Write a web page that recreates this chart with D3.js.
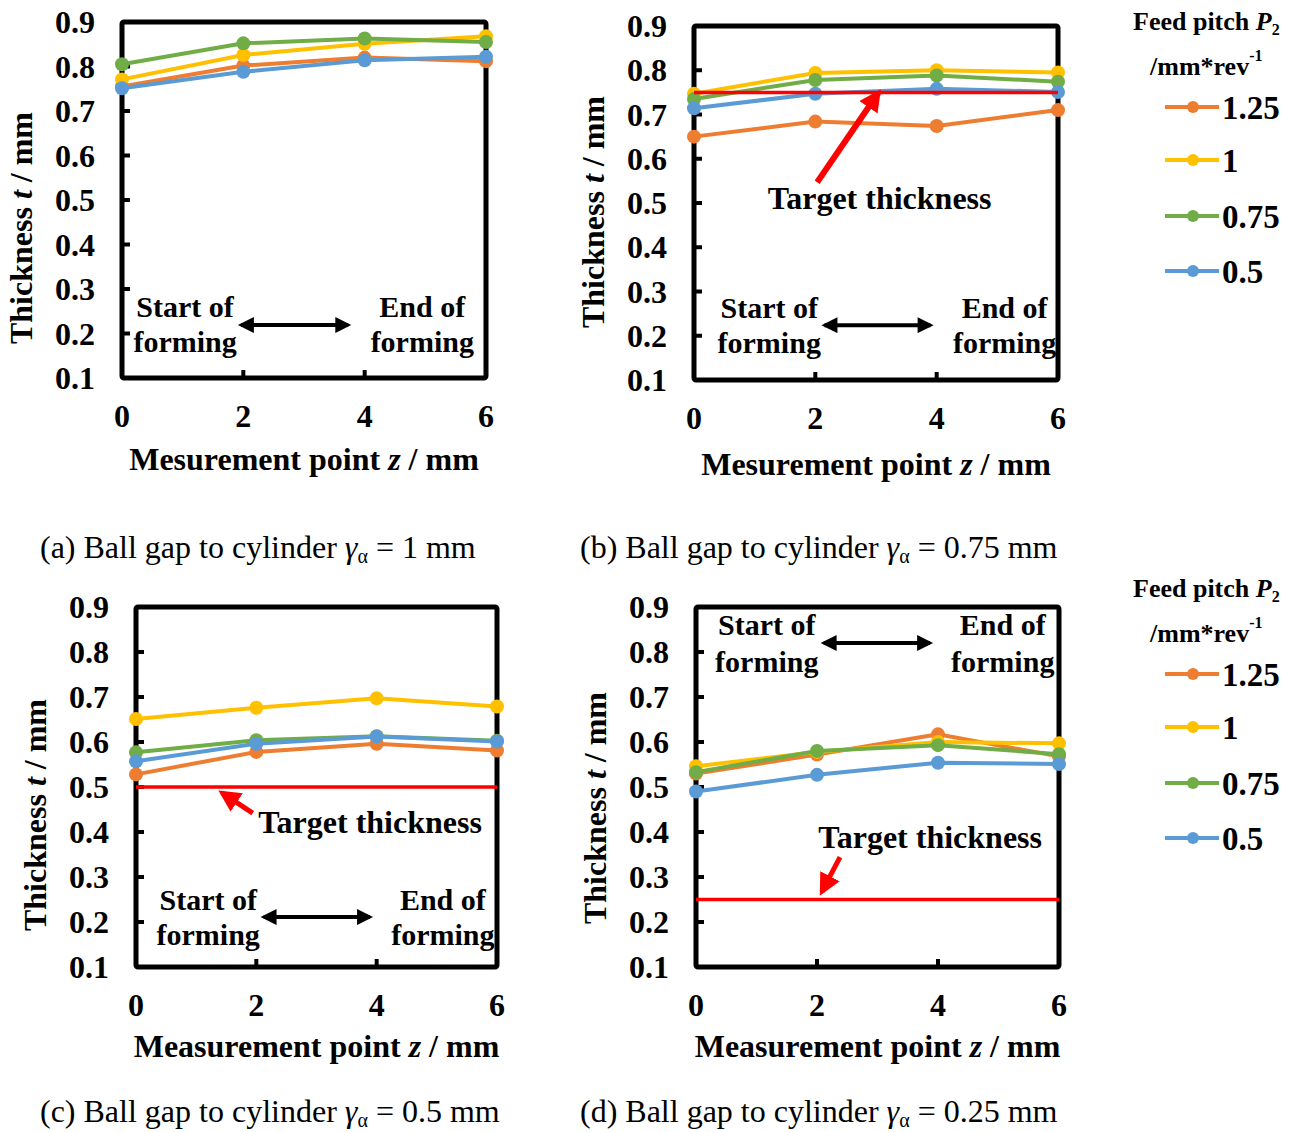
<!DOCTYPE html>
<html>
<head>
<meta charset="utf-8">
<script src="https://cdn.jsdelivr.net/npm/d3@7"></script>
<style>
  body { margin: 0; background: #fff; }
  svg { display: block; font-family: "Liberation Serif", "Times New Roman", serif; }
</style>
</head>
<body>
<div id="chart"></div>
<script>
// ---- data ----
const zPoints = [0, 2, 4, 6];
const yTicks = [0.1, 0.2, 0.3, 0.4, 0.5, 0.6, 0.7, 0.8, 0.9];
const feedPitch = ["1.25", "1", "0.75", "0.5"];
const colors = ["#ED7D31", "#FFC000", "#70AD47", "#5B9BD5"];

// thickness per feed pitch (rows follow feedPitch), per panel
const gap1 = [
  [0.755, 0.802, 0.820, 0.812],
  [0.771, 0.826, 0.851, 0.868],
  [0.805, 0.852, 0.863, 0.855],
  [0.751, 0.788, 0.814, 0.822]
];
const gap075 = [
  [0.650, 0.684, 0.674, 0.710],
  [0.747, 0.794, 0.800, 0.795],
  [0.735, 0.778, 0.788, 0.774],
  [0.714, 0.747, 0.758, 0.751]
];
const gap05 = [
  [0.528, 0.578, 0.596, 0.581],
  [0.651, 0.676, 0.697, 0.679],
  [0.577, 0.604, 0.613, 0.603],
  [0.557, 0.596, 0.612, 0.601]
];
const gap025 = [
  [0.530, 0.572, 0.617, 0.568],
  [0.546, 0.578, 0.600, 0.597],
  [0.533, 0.580, 0.593, 0.573],
  [0.490, 0.527, 0.554, 0.551]
];
const targets = [null, 0.75, 0.5, 0.25];
const gapLabels = ["1", "0.75", "0.5", "0.25"];

const W = 1298, H = 1132;
const svg = d3.select("#chart").append("svg")
  .attr("width", W).attr("height", H);

const panels = [
  { key: "a", data: gap1, target: targets[0], gap: gapLabels[0],
    box: [122, 486, 22, 378], xlab: "Mesurement", xlabY: 470, ylabY: 228,
    start: [1.04, 4.95, 0.237, 0.158], arrow: [1.93, 3.76, 0.219],
    cap: [40, 558] },
  { key: "b", data: gap075, target: targets[1], gap: gapLabels[1],
    box: [694, 1058, 26, 380], xlab: "Mesurement", xlabY: 475, ylabY: 212,
    start: [1.24, 5.12, 0.24, 0.161], arrow: [2.12, 3.93, 0.224],
    tt: [3.06, 0.486], tArrow: [2.03, 0.547, 3.04, 0.749],
    cap: [580, 558] },
  { key: "c", data: gap05, target: targets[2], gap: gapLabels[2],
    box: [136, 497, 607, 967], xlab: "Measurement", xlabY: 1057, ylabY: 815,
    start: [1.2, 5.1, 0.227, 0.149], arrow: [2.09, 3.92, 0.211],
    tt: [3.89, 0.398], tArrow: [1.94, 0.442, 1.43, 0.487],
    cap: [40, 1122] },
  { key: "d", data: gap025, target: targets[3], gap: gapLabels[3],
    box: [696, 1059, 607, 967], xlab: "Measurement", xlabY: 1057, ylabY: 808,
    start: [1.17, 5.07, 0.838, 0.756], arrow: [2.08, 3.9, 0.82],
    tt: [3.87, 0.364], tArrow: [2.38, 0.344, 2.08, 0.267],
    cap: [580, 1122] }
];

const defs = svg.append("defs");
function marker(id, color, w, h) {
  defs.append("marker")
    .attr("id", id)
    .attr("viewBox", "0 -5 10 10")
    .attr("refX", 8).attr("refY", 0)
    .attr("markerWidth", w).attr("markerHeight", h)
    .attr("markerUnits", "userSpaceOnUse")
    .attr("orient", "auto-start-reverse")
    .append("path")
    .attr("d", "M0,-5L10,0L0,5Z")
    .attr("fill", color);
}
marker("blackHead", "#000", 20, 16);
marker("redHead", "#FF0000", 22, 24);

panels.forEach(p => {
  const [x0, x1, y0, y1] = p.box;
  const x = d3.scaleLinear().domain([0, 6]).range([x0, x1]);
  const y = d3.scaleLinear().domain([0.1, 0.9]).range([y1, y0]);
  const g = svg.append("g").attr("class", "panel-" + p.key);

  // frame
  g.append("rect")
    .attr("x", x0).attr("y", y0)
    .attr("width", x1 - x0).attr("height", y1 - y0)
    .attr("fill", "none").attr("stroke", "#000")
    .attr("stroke-width", 5).attr("rx", 2);

  // inward ticks
  g.append("g").selectAll("line")
    .data(yTicks.slice(1, -1))
    .join("line")
    .attr("x1", x0).attr("x2", x0 + 8)
    .attr("y1", d => y(d)).attr("y2", d => y(d))
    .attr("stroke", "#000").attr("stroke-width", 4);
  g.append("g").selectAll("line")
    .data(zPoints.slice(1, -1))
    .join("line")
    .attr("x1", d => x(d)).attr("x2", d => x(d))
    .attr("y1", y1).attr("y2", y1 - 8)
    .attr("stroke", "#000").attr("stroke-width", 4);

  // tick labels
  g.append("g").selectAll("text")
    .data(yTicks)
    .join("text")
    .attr("x", x0 - 27).attr("y", d => y(d))
    .attr("dy", "0.35em")
    .attr("text-anchor", "end")
    .attr("font-size", 32).attr("font-weight", "bold")
    .text(d => d3.format(".1f")(d));
  g.append("g").selectAll("text")
    .data(zPoints)
    .join("text")
    .attr("x", d => x(d)).attr("y", y1 + 38)
    .attr("dy", "0.35em")
    .attr("text-anchor", "middle")
    .attr("font-size", 32).attr("font-weight", "bold")
    .text(d => d);

  // axis titles
  const xt = g.append("text")
    .attr("x", (x0 + x1) / 2).attr("y", p.xlabY)
    .attr("text-anchor", "middle")
    .attr("font-size", 32).attr("font-weight", "bold");
  xt.append("tspan").text(p.xlab + " point ");
  xt.append("tspan").attr("font-style", "italic").text("z");
  xt.append("tspan").text(" / mm");

  const yt = g.append("text")
    .attr("transform", `translate(${x0 - 90},${p.ylabY}) rotate(-90)`)
    .attr("text-anchor", "middle")
    .attr("font-size", 32).attr("font-weight", "bold");
  yt.append("tspan").text("Thickness ");
  yt.append("tspan").attr("font-style", "italic").text("t");
  yt.append("tspan").text(" / mm");

  // start / end annotations
  const ann = g.append("g")
    .attr("font-size", 30).attr("font-weight", "bold")
    .attr("text-anchor", "middle");
  [[p.start[0], "Start of"], [p.start[1], "End of"]].forEach(([xv, t]) => {
    ann.append("text").attr("x", x(xv)).attr("y", y(p.start[2])).text(t);
    ann.append("text").attr("x", x(xv)).attr("y", y(p.start[3])).text("forming");
  });
  g.append("line")
    .attr("x1", x(p.arrow[0]) + 2).attr("x2", x(p.arrow[1]) - 2)
    .attr("y1", y(p.arrow[2])).attr("y2", y(p.arrow[2]))
    .attr("stroke", "#000").attr("stroke-width", 4)
    .attr("marker-start", "url(#blackHead)")
    .attr("marker-end", "url(#blackHead)");

  // series
  const line = d3.line().x((d, i) => x(zPoints[i])).y(d => y(d));
  p.data.forEach((vals, k) => {
    const s = g.append("g");
    s.append("path")
      .datum(vals)
      .attr("d", line)
      .attr("fill", "none")
      .attr("stroke", colors[k]).attr("stroke-width", 4);
    s.selectAll("circle")
      .data(vals)
      .join("circle")
      .attr("cx", (d, i) => x(zPoints[i])).attr("cy", d => y(d))
      .attr("r", 7)
      .attr("fill", colors[k]);
  });

  // target thickness
  if (p.target != null) {
    g.append("line")
      .attr("x1", x(0)).attr("x2", x(6))
      .attr("y1", y(p.target)).attr("y2", y(p.target))
      .attr("stroke", "#FF0000").attr("stroke-width", 3.5);
    const ta = p.tArrow;
    g.append("line")
      .attr("x1", x(ta[0])).attr("y1", y(ta[1]))
      .attr("x2", x(ta[2])).attr("y2", y(ta[3]))
      .attr("stroke", "#FF0000")
      .attr("stroke-width", p.key === "b" ? 6 : 5)
      .attr("marker-end", "url(#redHead)");
    g.append("text")
      .attr("x", x(p.tt[0])).attr("y", y(p.tt[1]))
      .attr("text-anchor", "middle")
      .attr("font-size", 32).attr("font-weight", "bold")
      .text("Target thickness");
  }

  // caption
  const cap = g.append("text")
    .attr("x", p.cap[0]).attr("y", p.cap[1])
    .attr("font-size", 32);
  cap.append("tspan").text(`(${p.key}) Ball gap to cylinder `);
  cap.append("tspan").attr("font-style", "italic").text("γ");
  cap.append("tspan").attr("font-size", 20).attr("dy", 5).text("α");
  cap.append("tspan").attr("dy", -5).text(` = ${p.gap} mm`);
});

// legends
const legendTops = [30, 597];
legendTops.forEach(top => {
  const lg = svg.append("g").attr("class", "legend");
  const t1 = lg.append("text")
    .attr("x", 1133).attr("y", top)
    .attr("font-size", 26).attr("font-weight", "bold");
  t1.append("tspan").text("Feed pitch ");
  t1.append("tspan").attr("font-style", "italic").text("P");
  t1.append("tspan").attr("font-size", 16).attr("dy", 5).text("2");
  const t2 = lg.append("text")
    .attr("x", 1150).attr("y", top + 45)
    .attr("font-size", 26).attr("font-weight", "bold");
  t2.append("tspan").text("/mm*rev");
  t2.append("tspan").attr("font-size", 16).attr("dy", -14).text("-1");

  const rows = [77, 130, 186, 241];
  feedPitch.forEach((fp, k) => {
    const cy = top + rows[k];
    lg.append("line")
      .attr("x1", 1165).attr("x2", 1219)
      .attr("y1", cy).attr("y2", cy)
      .attr("stroke", colors[k]).attr("stroke-width", 4);
    lg.append("circle")
      .attr("cx", 1193).attr("cy", cy).attr("r", 6)
      .attr("fill", colors[k]);
    lg.append("text")
      .attr("x", 1222).attr("y", cy).attr("dy", "0.35em")
      .attr("font-size", 33).attr("font-weight", "bold")
      .text(fp);
  });
});
</script>
</body>
</html>
